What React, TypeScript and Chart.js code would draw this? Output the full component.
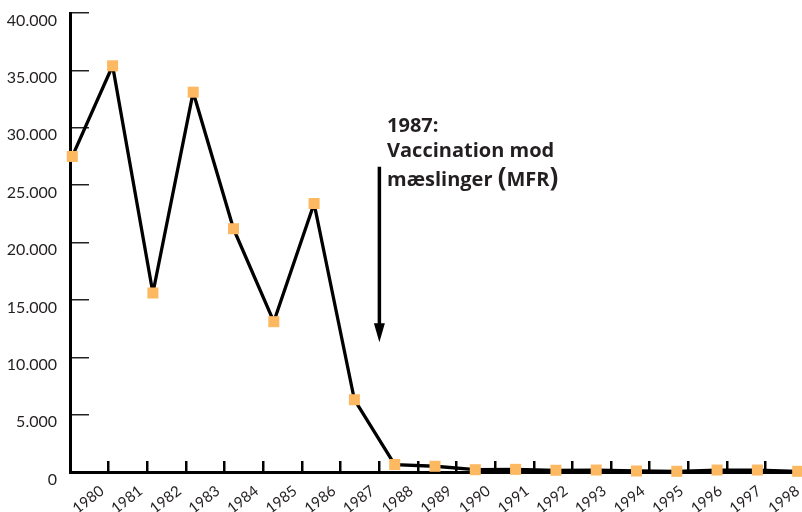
import { useEffect, useRef } from 'react';
import { Chart, registerables } from 'chart.js';

Chart.register(...registerables);

const YEARS = ['1980', '1981', '1982', '1983', '1984', '1985', '1986', '1987', '1988', '1989', '1990', '1991', '1992', '1993', '1994', '1995', '1996', '1997', '1998'];
const CASES = [27500, 35400, 15600, 33100, 21200, 13100, 23400, 6300, 650, 500, 200, 230, 150, 170, 90, 60, 170, 170, 60];
const Y_TICKS = [0, 5000, 10000, 15000, 20000, 25000, 30000, 35000, 40000];
const NOTE_LINES = ['1987:', 'Vaccination mod', 'mæslinger (MFR)'];
const NOTE_X = 7.81;
const NOTE_Y = 29600;
const ARROW_X = 7.62;
const ARROW_FROM = 26600;
const ARROW_TO = 11300;

const TEXT = '#231F20';
const MARKER = '#FDB962';

function fmt(v: number): string {
  return String(Math.round(v)).replace(/\B(?=(\d{3})+(?!\d))/g, '.');
}

const notePlugin = {
  id: 'note',
  afterDatasetsDraw(chart: any) {
    const { ctx, scales } = chart;
    const xs = scales.x;
    const ys = scales.y;
    ctx.save();
    const ax = xs.getPixelForValue(ARROW_X);
    const ay1 = ys.getPixelForValue(ARROW_FROM);
    const ay2 = ys.getPixelForValue(ARROW_TO);
    const headLen = 19;
    const headW = 5.5;
    ctx.strokeStyle = '#000';
    ctx.fillStyle = '#000';
    ctx.lineWidth = 3.5;
    ctx.beginPath();
    ctx.moveTo(ax, ay1);
    ctx.lineTo(ax, ay2 - headLen + 2);
    ctx.stroke();
    ctx.beginPath();
    ctx.moveTo(ax - headW, ay2 - headLen);
    ctx.lineTo(ax + headW, ay2 - headLen);
    ctx.lineTo(ax, ay2);
    ctx.closePath();
    ctx.fill();
    const tx = xs.getPixelForValue(NOTE_X);
    const ty = ys.getPixelForValue(NOTE_Y);
    const offsets = [0, 25, 54];
    ctx.fillStyle = TEXT;
    ctx.textBaseline = 'alphabetic';
    ctx.textAlign = 'left';
    NOTE_LINES.forEach((line, i) => {
      let x = tx;
      const y = ty + offsets[i];
      const parts = line.split(/([()])/).filter((p) => p.length);
      parts.forEach((p) => {
        const big = p === '(' || p === ')';
        ctx.font = `700 ${big ? 26 : 20}px "Open Sans"`;
        ctx.fillText(p, x, y);
        x += ctx.measureText(p).width;
      });
    });
    ctx.restore();
  },
};

function noPad(s: any) {
  s.paddingTop = 0;
  s.paddingBottom = 0;
  s.paddingLeft = 0;
  s.paddingRight = 0;
}

export default function App() {
  const ref = useRef<HTMLCanvasElement | null>(null);
  useEffect(() => {
    if (!ref.current) return;
    const chart = new Chart(ref.current, {
      type: 'line',
      data: {
        datasets: [
          {
            data: CASES.map((v, i) => ({ x: i, y: v })),
            borderColor: '#000',
            borderWidth: 3.3,
            borderJoinStyle: 'round',
            tension: 0,
            pointStyle: 'rect',
            pointRadius: 7.8,
            pointHoverRadius: 7.8,
            pointBackgroundColor: MARKER,
            pointBorderWidth: 0,
            clip: false as any,
            xAxisID: 'x',
            yAxisID: 'y',
          },
        ],
      },
      options: {
        animation: false,
        responsive: false,
        maintainAspectRatio: false,
        devicePixelRatio: 1,
        layout: { autoPadding: false, padding: { top: 13, left: 0, right: 0, bottom: 0 } },
        plugins: { legend: { display: false }, tooltip: { enabled: false } },
        scales: {
          x: {
            type: 'linear',
            display: false,
            min: -0.057,
            max: 18.107,
            afterFit: noPad,
          },
          x2: {
            type: 'linear',
            position: 'bottom',
            min: 0,
            max: 18.94,
            afterBuildTicks: (s: any) => {
              s.ticks = YEARS.map((_, i) => ({ value: i }));
            },
            afterFit: (s: any) => {
              s.height = 40;
              noPad(s);
            },
            border: { display: true, color: '#000', width: 3 },
            grid: { drawOnChartArea: false, drawTicks: true, tickLength: -11, color: '#000', lineWidth: 2.5 },
            ticks: {
              autoSkip: false,
              minRotation: 38,
              maxRotation: 38,
              labelOffset: 32,
              padding: 21,
              color: TEXT,
              font: { family: 'Lato', size: 15 },
              callback: (v: any) => YEARS[Math.round(Number(v))] ?? '',
            },
          },
          y: {
            type: 'linear',
            position: 'left',
            min: 0,
            max: 40000,
            afterBuildTicks: (s: any) => {
              s.ticks = Y_TICKS.map((v) => ({ value: v }));
            },
            afterFit: (s: any) => {
              s.width = 70;
              noPad(s);
            },
            border: { display: true, color: '#000', width: 3 },
            grid: { drawOnChartArea: false, drawTicks: true, tickLength: -19, color: '#222', lineWidth: 1.5 },
            ticks: {
              padding: 32,
              labelOffset: 7.5,
              color: TEXT,
              font: { family: 'Lato', size: 16 },
              callback: (v: any) => fmt(Number(v)),
            },
          },
        },
      },
      plugins: [notePlugin],
    });
    return () => chart.destroy();
  }, []);
  return (
    <div style={{ position: 'absolute', left: 0, top: 0, width: 802, height: 512, background: '#fff' }}>
      <canvas ref={ref} width={802} height={512} style={{ display: 'block' }} />
    </div>
  );
}
